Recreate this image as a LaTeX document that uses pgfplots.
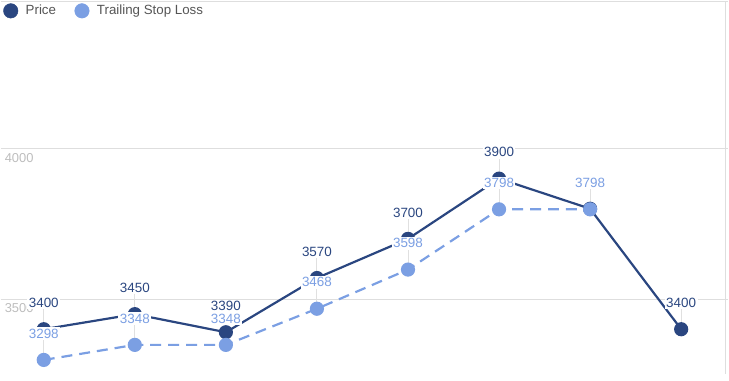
\documentclass[border=0pt]{standalone}
\usepackage{pgfplots}
\pgfplotsset{compat=1.18}
\usepackage{fontspec}
\setmainfont{Liberation Sans}
\definecolor{price}{HTML}{2A4680}
\definecolor{tsl}{HTML}{7B9FE3}
\definecolor{gridc}{HTML}{DEDEDE}
\definecolor{tickc}{HTML}{BDBDBD}
\definecolor{leadc}{HTML}{E0E0E0}
\definecolor{legc}{HTML}{555555}
\tikzset{
  lbl/.style={anchor=south, yshift=20bp, fill=white, inner sep=1.5bp,
    font=\fontsize{13.5}{15}\selectfont},
}
\pgfplotsset{leader/.style={error bars/y dir=plus, error bars/y fixed=66.2, error bars/error mark=none,
    error bars/error bar style={draw=leadc, line width=0.9bp, solid}}}
\begin{document}
\begin{tikzpicture}
\begin{axis}[
  set layers,
  scale only axis,
  width=729bp, height=374bp,
  xmin=-0.474, xmax=7.511,
  ymin=3252.6, ymax=4491,
  axis line style={draw=none},
  xtick=\empty,
  extra x ticks={7.489},
  extra x tick labels={},
  extra x tick style={grid=major, major grid style={draw=gridc, line width=1.2bp}, major tick length=0pt},
  ytick={3500,4000},
  extra y ticks={4489},
  extra y tick labels={},
  extra y tick style={grid=major, major grid style={draw=gridc, line width=1.2bp}, major tick length=0pt},
  ymajorgrids,
  major grid style={draw=gridc, line width=1.2bp},
  major tick length=0pt,
  /pgf/number format/assume math mode=true,
  /pgf/number format/1000 sep={},
  yticklabel style={anchor=north west, inner sep=0pt, xshift=4bp, yshift=-4.4bp, text=tickc, font=\fontsize{13}{14}\selectfont},
  legend style={at={(0,1)}, anchor=north west, draw=none, fill=none,
    xshift=-0.5bp, yshift=-0.5bp,
    font=\fontsize{13.4}{15}\selectfont, text=legc,
    /tikz/every even column/.append style={column sep=16.5bp}},
  legend columns=2,
  legend cell align=left,
]
\addlegendimage{legend image code/.code={\fill[price] (0bp,0bp) circle (7.3bp); \path[draw=none] (0bp,0bp) -- (13bp,0bp);}}
\addlegendentry{Price}
\addlegendimage{legend image code/.code={\fill[tsl] (0bp,0bp) circle (7.3bp); \path[draw=none] (0bp,0bp) -- (13bp,0bp);}}
\addlegendentry{Trailing Stop Loss}
\addplot[forget plot, price, line width=2.2bp, mark=*, mark size=6bp, mark options={solid}, leader]
  coordinates {(0,3400) (1,3450) (2,3390) (3,3570) (4,3700) (5,3900) (6,3800) (7,3400)};
\addplot[forget plot, draw=none, mark=none, point meta=explicit symbolic,
  nodes near coords, every node near coord/.append style={lbl, text=price}]
  coordinates {(0,3400)[3400] (1,3450)[3450] (2,3390)[3390] (3,3570)[3570] (4,3700)[3700] (5,3900)[3900] (7,3400)[3400]};
\addplot[forget plot, tsl, line width=2.2bp, dash pattern=on 11bp off 7bp, mark=*, mark size=6bp, mark options={solid}, leader]
  coordinates {(0,3298) (1,3348) (2,3348) (3,3468) (4,3598) (5,3798) (6,3798)};
\addplot[forget plot, draw=none, mark=none, point meta=explicit symbolic,
  nodes near coords, every node near coord/.append style={lbl, text=tsl}]
  coordinates {(0,3298)[3298] (1,3348)[3348] (2,3348)[3348] (3,3468)[3468] (4,3598)[3598] (5,3798)[3798] (6,3798)[3798]};
\end{axis}
\end{tikzpicture}
\end{document}
